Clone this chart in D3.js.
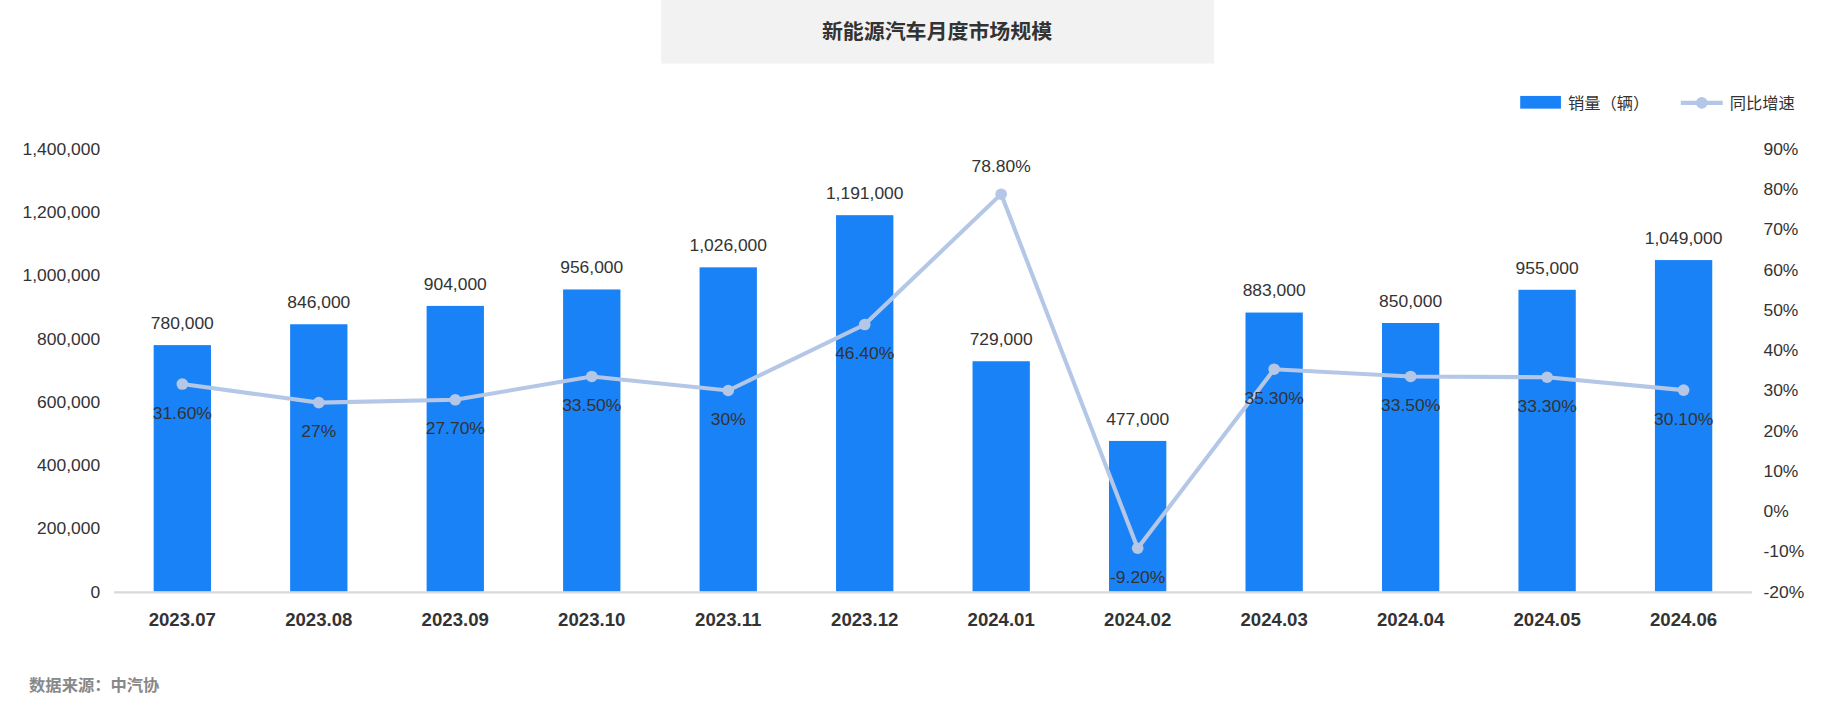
<!DOCTYPE html><html><head><meta charset="utf-8">
<script src="https://cdn.jsdelivr.net/npm/d3@7"></script>
<style>body{margin:0;background:#fff}svg{display:block}</style></head><body>
<script>
const months=["2023.07","2023.08","2023.09","2023.10","2023.11","2023.12","2024.01","2024.02","2024.03","2024.04","2024.05","2024.06"];
const sales=[780000,846000,904000,956000,1026000,1191000,729000,477000,883000,850000,955000,1049000];
const growth=[31.6,27,27.7,33.5,30,46.4,78.8,-9.2,35.3,33.5,33.3,30.1];
const growthLabels=["31.60%","27%","27.70%","33.50%","30%","46.40%","78.80%","-9.20%","35.30%","33.50%","33.30%","30.10%"];
const leftTicks=[0,200000,400000,600000,800000,1000000,1200000,1400000];
const rightTicks=[-20,-10,0,10,20,30,40,50,60,70,80,90];
const W=1567,H=610,F="Arial,'Liberation Sans','Noto Sans CJK SC',sans-serif";
const svg=d3.select("body").append("svg").attr("width",1824).attr("height",705).attr("viewBox",`0 0 ${W} ${H}`).attr("preserveAspectRatio","none").style("font-family",F);
svg.append("rect").attr("x",568).attr("y",0).attr("width",475).attr("height",55).attr("fill","#f2f2f2");
svg.append("text").attr("x",805).attr("y",34).attr("text-anchor","middle").attr("font-size",18).attr("font-weight","bold").attr("fill","#333").text("新能源汽车月度市场规模");
const x=d3.scaleBand().domain(months).range([98,1505]).paddingInner(0.58).paddingOuter(0.29);
const yL=d3.scaleLinear().domain([0,1400000]).range([512,129]);
const yR=d3.scaleLinear().domain([-20,90]).range([512,129]);
svg.selectAll(".lt").data(leftTicks).join("text").attr("x",86).attr("y",d=>yL(d)+5).attr("text-anchor","end").attr("font-size",15).attr("fill","#333").text(d3.format(","));
svg.selectAll(".rt").data(rightTicks).join("text").attr("x",1515).attr("y",d=>yR(d)+5).attr("font-size",15).attr("fill","#333").text(d=>d+"%");
svg.selectAll(".bar").data(sales).join("rect").attr("x",(d,i)=>x(months[i])).attr("width",x.bandwidth()).attr("y",d=>yL(d)).attr("height",d=>yL(0)-yL(d)).attr("fill","#1a82f7");
svg.append("line").attr("x1",98).attr("x2",1505).attr("y1",512.5).attr("y2",512.5).attr("stroke","#d9d9d9").attr("stroke-width",2);
svg.selectAll(".bl").data(sales).join("text").attr("x",(d,i)=>x(months[i])+x.bandwidth()/2).attr("y",d=>yL(d)-14).attr("text-anchor","middle").attr("font-size",15).attr("fill","#333").text(d3.format(","));
svg.selectAll(".xl").data(months).join("text").attr("x",d=>x(d)+x.bandwidth()/2).attr("y",542).attr("text-anchor","middle").attr("font-size",16).attr("font-weight","bold").attr("fill","#333").text(d=>d);
const cx=i=>x(months[i])+x.bandwidth()/2;
svg.append("path").datum(growth).attr("fill","none").attr("stroke","#b4c7e7").attr("stroke-width",3.5).attr("d",d3.line().x((d,i)=>cx(i)).y(d=>yR(d)));
svg.selectAll(".pt").data(growth).join("circle").attr("cx",(d,i)=>cx(i)).attr("cy",d=>yR(d)).attr("r",5).attr("fill","#b4c7e7");
svg.selectAll(".gl").data(growth).join("text").attr("x",(d,i)=>cx(i)).attr("y",(d,i)=>i==6?yR(d)-19:yR(d)+30).attr("text-anchor","middle").attr("font-size",15).attr("fill","#333").text((d,i)=>growthLabels[i]);
svg.append("rect").attr("x",1306).attr("y",83).attr("width",35).attr("height",11).attr("fill","#1a82f7");
svg.append("text").attr("x",1347).attr("y",94).attr("font-size",14).attr("fill","#333").text("销量（辆）");
svg.append("line").attr("x1",1444).attr("x2",1480).attr("y1",89).attr("y2",89).attr("stroke","#b4c7e7").attr("stroke-width",3.5);
svg.append("circle").attr("cx",1462).attr("cy",89).attr("r",5).attr("fill","#b4c7e7");
svg.append("text").attr("x",1486).attr("y",94).attr("font-size",14).attr("fill","#333").text("同比增速");
svg.append("text").attr("x",25).attr("y",598).attr("font-size",14).attr("font-weight","bold").attr("fill","#888").text("数据来源：中汽协");
</script></body></html>
